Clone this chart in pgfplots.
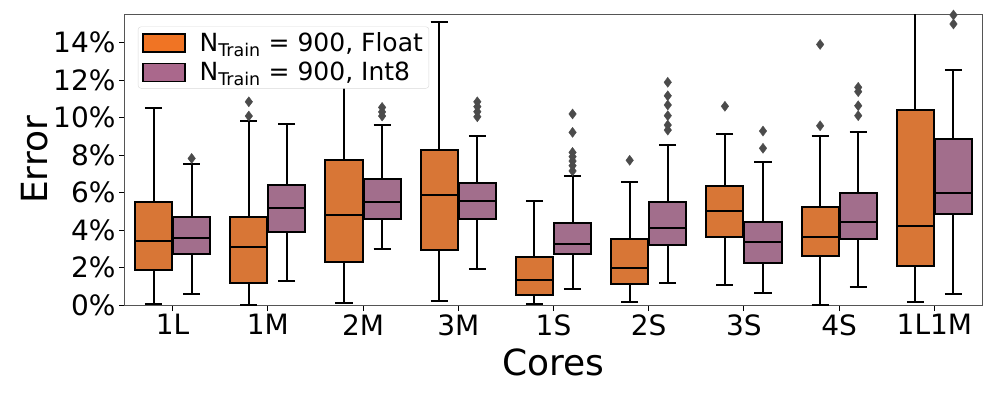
\documentclass[border=0pt]{standalone}
\usepackage{fontspec}
\setmainfont{DejaVu Sans}
\usepackage{pgfplots}
\pgfplotsset{compat=1.18}
\usepgfplotslibrary{statistics}

\definecolor{floatc}{RGB}{216,118,54}
\definecolor{intc}{RGB}{162,110,140}
\definecolor{floatL}{RGB}{240,116,36}
\definecolor{intL}{RGB}{170,104,140}
\definecolor{outc}{RGB}{75,75,75}
\definecolor{framec}{RGB}{85,85,85}

% one box: position, lower whisker, Q1, median, Q3, upper whisker
\newcommand{\bx}[7]{%
  \addplot[boxplot prepared={draw position=#1, lower whisker=#2,
    lower quartile=#3, median=#4, upper quartile=#5, upper whisker=#6},
    draw=black, line width=1.8pt, fill=#7] coordinates {};}

\begin{document}
\begin{tikzpicture}
\begin{axis}[
    scale only axis,
    width=857pt, height=290pt,
    xmin=-0.5, xmax=8.5,
    ymin=0, ymax=15.47,
    xtick={0,...,8},
    xticklabels={1L,1M,2M,3M,1S,2S,3S,4S,1L1M},
    ytick={0,2,...,14},
    yticklabel={\pgfmathprintnumber{\tick}\%},
    /pgf/number format/assume math mode=true,
    tick pos=left,
    tick align=outside,
    major tick length=6pt,
    tick style={black, line width=1pt},
    axis line style={framec, line width=1pt},
    ticklabel style={font=\fontsize{28}{32}\selectfont},
    xlabel={Cores},
    ylabel={Error},
    label style={font=\fontsize{36}{40}\selectfont},
    xlabel style={yshift=-6pt},
    ylabel style={yshift=-2pt},
    boxplot/draw direction=y,
    boxplot/box extend=0.39,
    boxplot/whisker extend=0.18,
    boxplot/every whisker/.style={line width=2pt},
    boxplot/every median/.style={line width=2pt},
    boxplot/every box/.style={line width=2pt},
    legend style={at={(0.015,0.96)}, anchor=north west,
        draw=black!15, rounded corners=3pt, fill=white,
        font=\fontsize{25}{29}\selectfont,
        row sep=5pt, inner sep=4pt},
    legend cell align=left,
]
\addlegendimage{legend image code/.code={\draw[sharp corners,fill=floatL,draw=black,line width=1.5pt] (0pt,-9pt) rectangle (42pt,9pt);}}
\addlegendentry{\hspace{12pt}N\textsubscript{Train} = 900, Float}
\addlegendimage{legend image code/.code={\draw[sharp corners,fill=intL,draw=black,line width=1.5pt] (0pt,-9pt) rectangle (42pt,9pt);}}
\addlegendentry{\hspace{12pt}N\textsubscript{Train} = 900, Int8}

% Float
\bx{-0.2}{0.05}{1.87}{3.43}{5.51}{10.49}{floatc}
\bx{0.8}{0.0}{1.17}{3.11}{4.68}{9.83}{floatc}
\bx{1.8}{0.09}{2.31}{4.78}{7.75}{12.6}{floatc}
\bx{2.8}{0.2}{2.93}{5.85}{8.28}{15.11}{floatc}
\bx{3.8}{0.04}{0.53}{1.32}{2.56}{5.53}{floatc}
\bx{4.8}{0.14}{1.14}{1.99}{3.50}{6.58}{floatc}
\bx{5.8}{1.07}{3.61}{5.01}{6.36}{9.10}{floatc}
\bx{6.8}{0.0}{2.63}{3.63}{5.23}{9.00}{floatc}
\bx{7.8}{0.14}{2.10}{4.23}{10.42}{17.0}{floatc}
% Int8
\bx{0.2}{0.57}{2.70}{3.59}{4.71}{7.54}{intc}
\bx{1.2}{1.28}{3.88}{5.16}{6.40}{9.65}{intc}
\bx{2.2}{2.99}{4.59}{5.49}{6.72}{9.58}{intc}
\bx{3.2}{1.90}{4.59}{5.56}{6.52}{9.00}{intc}
\bx{4.2}{0.87}{2.70}{3.24}{4.39}{6.86}{intc}
\bx{5.2}{1.17}{3.18}{4.12}{5.48}{8.52}{intc}
\bx{6.2}{0.62}{2.26}{3.36}{4.43}{7.61}{intc}
\bx{7.2}{0.94}{3.52}{4.44}{5.97}{9.21}{intc}
\bx{8.2}{0.60}{4.85}{5.99}{8.84}{12.53}{intc}

% outliers
\addplot[only marks, mark=diamond*, mark size=5pt, color=outc] coordinates {
    (0.2,7.82)
    (0.8,10.84) (0.8,10.08)
    (2.2,10.54) (2.2,10.30) (2.2,10.08)
    (3.2,10.84) (3.2,10.58) (3.2,10.31) (3.2,10.04)
    (4.2,10.19) (4.2,9.21) (4.2,8.14) (4.2,7.91) (4.2,7.68) (4.2,7.43) (4.2,7.15)
    (4.8,7.72)
    (5.2,11.88) (5.2,11.16) (5.2,10.67) (5.2,10.10) (5.2,9.60) (5.2,9.33)
    (5.8,10.60)
    (6.2,9.28) (6.2,8.36)
    (6.8,13.90) (6.8,9.56)
    (7.2,11.61) (7.2,11.38) (7.2,10.63) (7.2,10.10)
    (8.2,15.47) (8.2,14.99)
};
\end{axis}
\path (current axis.south west) ++(-125pt,-94pt);
\path (current axis.north east) ++(15pt,15pt);
\end{tikzpicture}
\end{document}
